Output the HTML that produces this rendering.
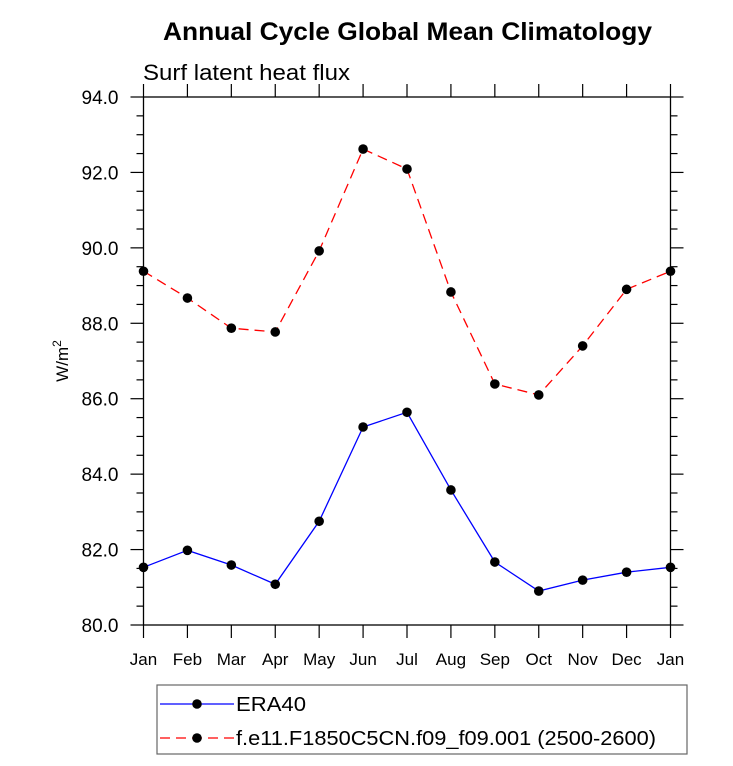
<!DOCTYPE html>
<html><head><meta charset="utf-8"><style>
body{margin:0;background:#fff;}
svg text{font-family:"Liberation Sans",Arial,sans-serif;}
</style></head><body>
<svg id="chart" width="733" height="761" xmlns="http://www.w3.org/2000/svg">
<text x="163" y="40" font-size="25" font-weight="bold" textLength="489" lengthAdjust="spacingAndGlyphs">Annual Cycle Global Mean Climatology</text>
<text x="143" y="80" font-size="22" textLength="207" lengthAdjust="spacingAndGlyphs">Surf latent heat flux</text>
<text transform="translate(68,361) rotate(-90)" font-size="17" text-anchor="middle">W/m<tspan dy="-7" font-size="12">2</tspan></text>
<g id="axes"></g>
<g id="series"></g>
<g>
<rect x="157" y="685" width="530" height="69" fill="none" stroke="#666" stroke-width="1.2"/>
<line x1="160" y1="704" x2="234" y2="704" stroke="#0000ff" stroke-width="1.3"/>
<circle cx="197" cy="704" r="4.8" fill="#000"/>
<text x="236" y="711" font-size="20" textLength="70" lengthAdjust="spacingAndGlyphs">ERA40</text>
<line x1="160" y1="738" x2="234" y2="738" stroke="#ff0000" stroke-width="1.3" stroke-dasharray="10,6"/>
<circle cx="197" cy="738" r="4.8" fill="#000"/>
<text x="236" y="745" font-size="20" textLength="420" lengthAdjust="spacingAndGlyphs">f.e11.F1850C5CN.f09_f09.001 (2500-2600)</text>
</g>
</svg>
<script>
const months = ["Jan","Feb","Mar","Apr","May","Jun","Jul","Aug","Sep","Oct","Nov","Dec","Jan"];
const era40 = [81.53,81.98,81.59,81.08,82.75,85.25,85.64,83.58,81.67,80.9,81.19,81.4,81.53];
const model = [89.38,88.67,87.87,87.77,89.92,92.62,92.09,88.83,86.39,86.1,87.4,88.9,89.38];
const yTicks = [80,82,84,86,88,90,92,94];
const yTickLabels = ["80.0","82.0","84.0","86.0","88.0","90.0","92.0","94.0"];

const NS="http://www.w3.org/2000/svg";
const L=143.5,R=670.5,T=97,B=625,YMIN=80,YMAX=94;
const xs=i=>L+(R-L)*i/(months.length-1);
const ys=v=>B-(v-YMIN)/(YMAX-YMIN)*(B-T);
function mk(tag,attrs,parent){const e=document.createElementNS(NS,tag);for(const k in attrs)e.setAttribute(k,attrs[k]);parent.appendChild(e);return e;}
const ax=document.getElementById('axes');
const frame=mk('rect',{x:L,y:T,width:R-L,height:B-T,fill:'none',stroke:'#000','stroke-width':1.3},ax);


months.forEach((m,i)=>{
  const x=xs(i);
  mk('line',{x1:x,y1:B,x2:x,y2:B+13,stroke:'#000','stroke-width':1.2},ax);
  mk('line',{x1:x,y1:T,x2:x,y2:T-13,stroke:'#000','stroke-width':1.2},ax);
  const t=mk('text',{x:x,y:B+40,'font-size':17,'text-anchor':'middle'},ax);
  t.textContent=m;
  
  
});
for(let v=YMIN;v<=YMAX+1e-6;v+=0.5){
  const y=ys(v);const major=Math.abs(v-Math.round(v/2)*2)<1e-6;const len=major?13:7;
  mk('line',{x1:L-len,y1:y,x2:L,y2:y,stroke:'#000','stroke-width':1.2},ax);
  mk('line',{x1:R,y1:y,x2:R+len,y2:y,stroke:'#000','stroke-width':1.2},ax);
}
yTicks.forEach((v,i)=>{
  const t=mk('text',{x:L-25,y:ys(v)+7,'font-size':19,'text-anchor':'end'},ax);
  t.textContent=yTickLabels[i];
  
  
});
const sg=document.getElementById('series');
function series(vals,color,dash,name){
  const p=mk('polyline',{points:vals.map((v,i)=>xs(i)+','+ys(v)).join(' '),fill:'none',stroke:color,'stroke-width':1.3,'stroke-dasharray':dash},sg);
  
  
  vals.forEach((v,i)=>{
    const c=mk('circle',{cx:xs(i),cy:ys(v),r:4.8,fill:'#000'},sg);
    
    
  });
}
series(model,'#ff0000','10,6','model');
series(era40,'#0000ff','none','era40');
</script>
</body></html>
